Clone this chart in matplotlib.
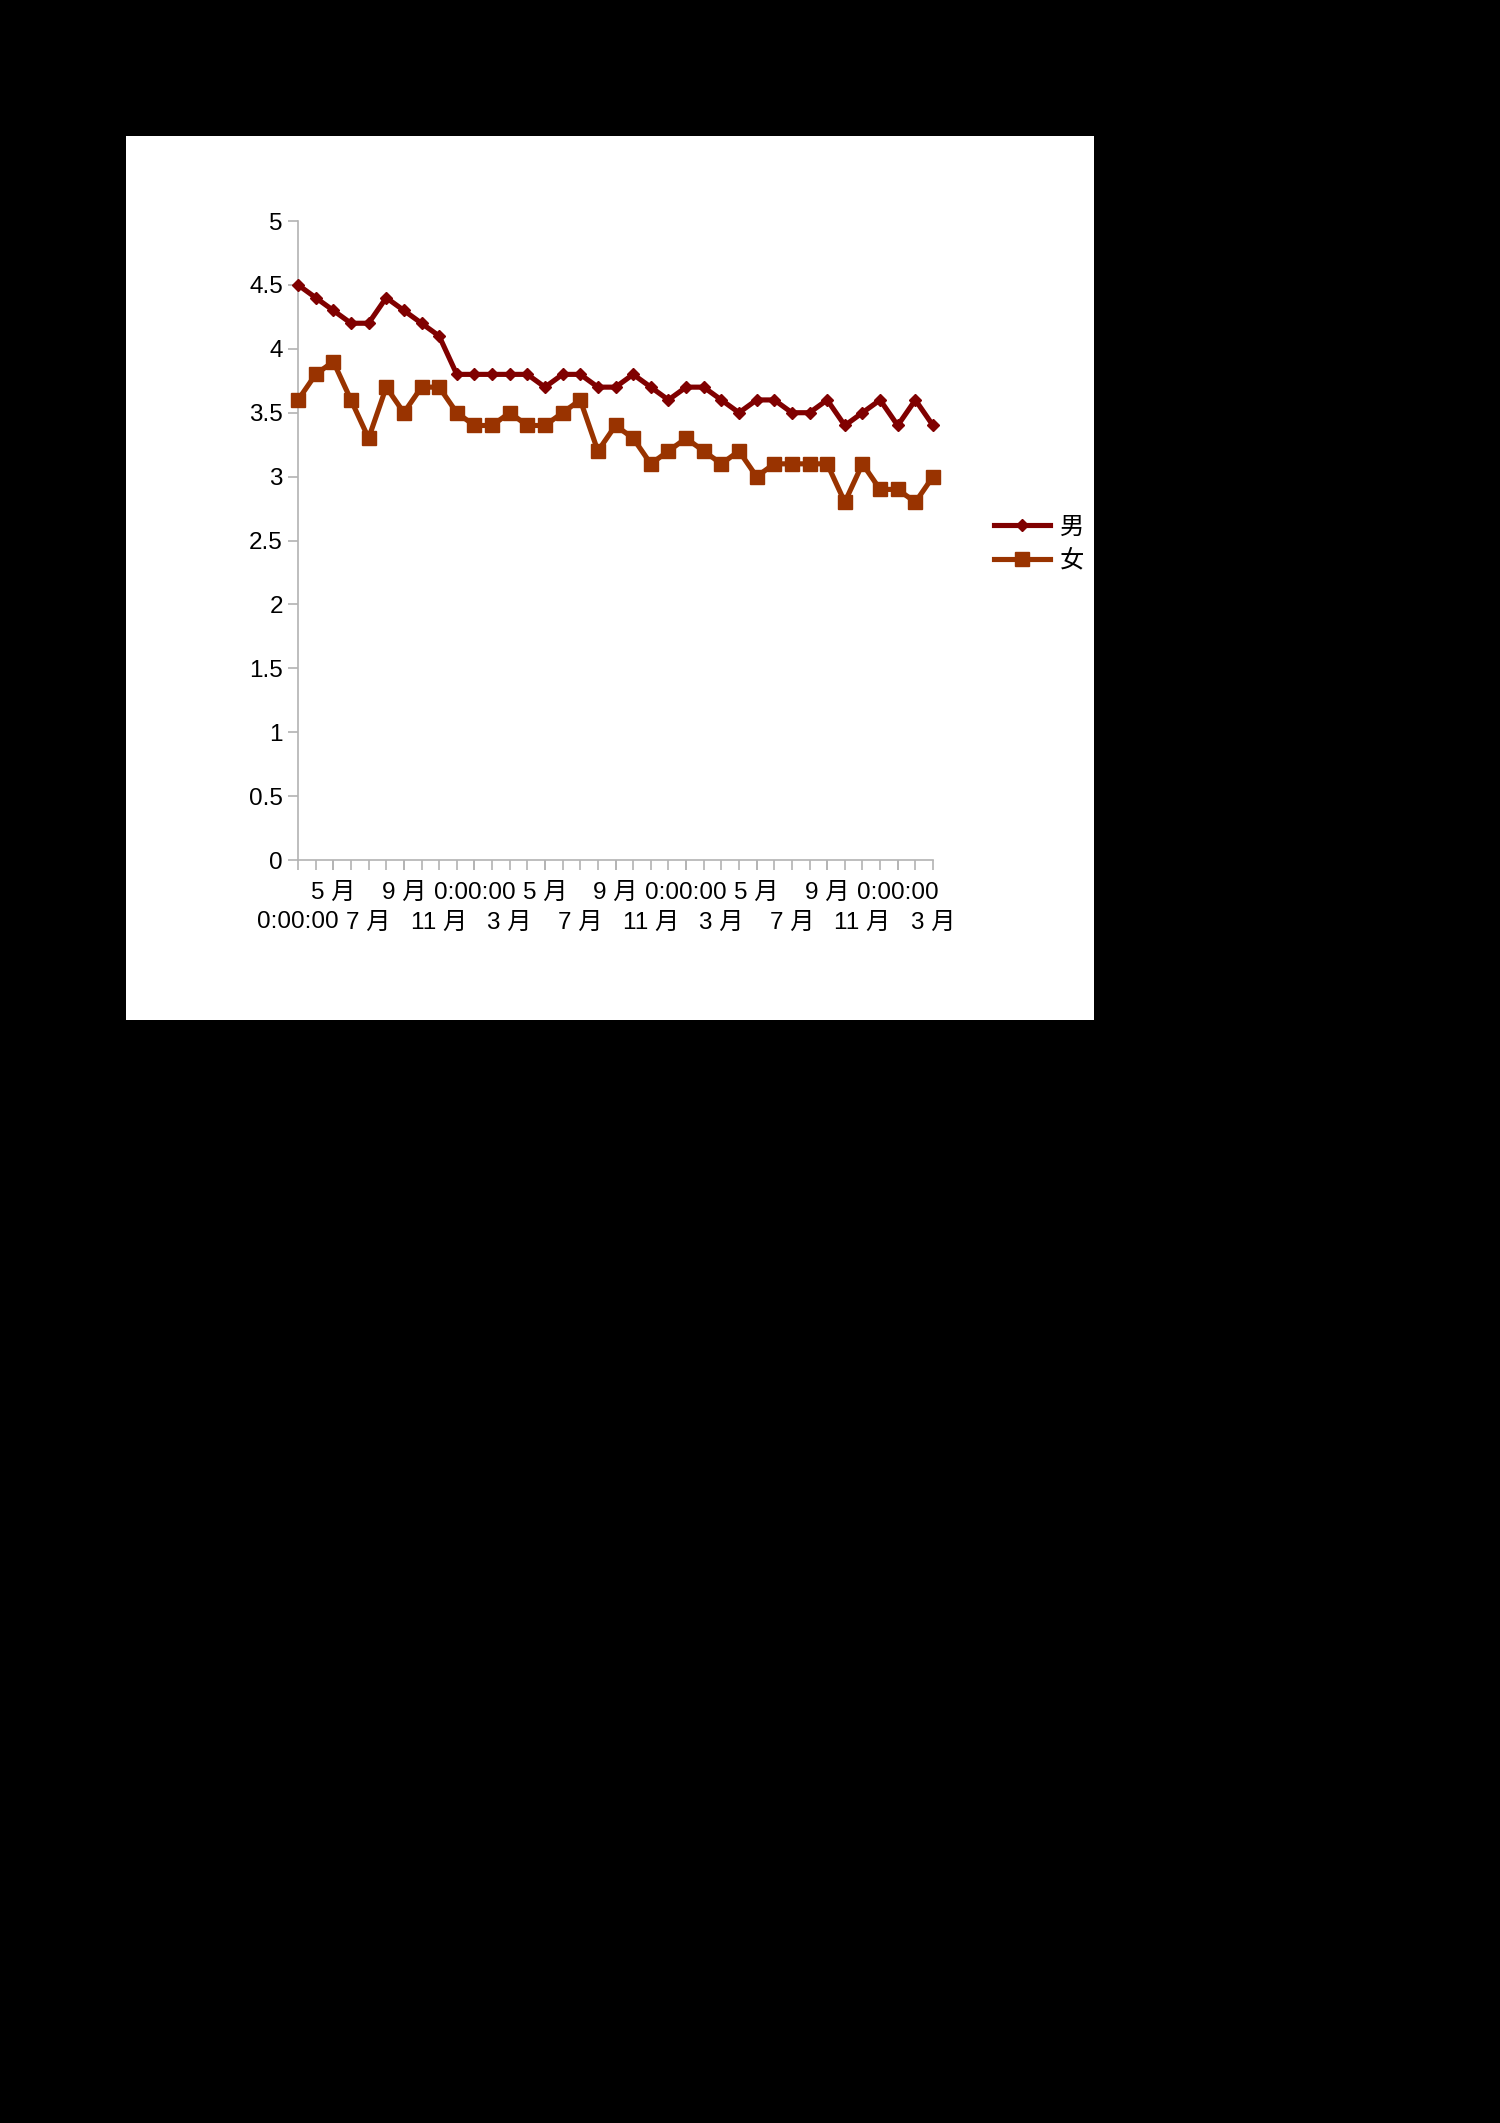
import numpy as np
import matplotlib
matplotlib.use('Agg')
import matplotlib.pyplot as plt
from matplotlib.patches import Rectangle

plt.rcParams['font.family'] = ['Liberation Sans', 'Noto Sans CJK SC', 'DejaVu Sans']

#%%----- data ----------------------------------------------------------------
male = [4.5, 4.4, 4.3, 4.2, 4.2, 4.4, 4.3, 4.2, 4.1, 3.8, 3.8, 3.8, 3.8, 3.8,
        3.7, 3.8, 3.8, 3.7, 3.7, 3.8, 3.7, 3.6, 3.7, 3.7, 3.6, 3.5, 3.6, 3.6,
        3.5, 3.5, 3.6, 3.4, 3.5, 3.6, 3.4, 3.6, 3.4]
female = [3.6, 3.8, 3.9, 3.6, 3.3, 3.7, 3.5, 3.7, 3.7, 3.5, 3.4, 3.4, 3.5, 3.4,
          3.4, 3.5, 3.6, 3.2, 3.4, 3.3, 3.1, 3.2, 3.3, 3.2, 3.1, 3.2, 3.0, 3.1,
          3.1, 3.1, 3.1, 2.8, 3.1, 2.9, 2.9, 2.8, 3.0]
# every second category gets a label
cat_labels = ['0:00:00', '5 月', '7 月', '9 月', '11 月', '0:00:00', '3 月',
              '5 月', '7 月', '9 月', '11 月', '0:00:00', '3 月', '5 月',
              '7 月', '9 月', '11 月', '0:00:00', '3 月']
y_ticks = [0, 0.5, 1, 1.5, 2, 2.5, 3, 3.5, 4, 4.5, 5]
series_names = ['男', '女']

#%%----- figure --------------------------------------------------------------
fig = plt.figure(figsize=(15, 21.23), dpi=100, facecolor='black')
fig.patches.append(Rectangle((0.084, 0.5195), 0.645, 0.4165, transform=fig.transFigure,
                             facecolor='white', edgecolor='none', zorder=-10))

ax = fig.add_axes([0.1987, 0.5949, 0.4233, 0.301])
ax.set_facecolor('none')
x = np.arange(len(male))

ax.plot(x, male, color='#800000', lw=3.7, marker='D', ms=6.4, label=series_names[0],
        clip_on=False, zorder=3)
ax.plot(x, female, color='#993300', lw=3.7, marker='s', ms=10, label=series_names[1],
        clip_on=False, zorder=3)

ax.set_xlim(0, len(male) - 1)
ax.set_ylim(0, 5)
for s in ['top', 'right']:
    ax.spines[s].set_visible(False)
for s in ['left', 'bottom']:
    ax.spines[s].set_color('#b3b3b3')
    ax.spines[s].set_linewidth(1.2)

ax.set_yticks(y_ticks)
ax.set_yticklabels(['%g' % v for v in y_ticks])
ax.tick_params(axis='y', length=7, width=1.2, color='#b3b3b3', pad=4,
               labelsize=17.5, labelcolor='black')

# ticks at every category; labels on every second one, in two staggered rows
# upper row -> major ticks, lower row -> minor ticks
upper = [lab for i, lab in enumerate(cat_labels) if i % 2 == 1]
lower = [cat_labels[i // 2] if i % 4 == 0 else '' for i in x]
ax.xaxis.remove_overlapping_locs = False
ax.set_xticks(x[2::4], labels=upper)
ax.set_xticks(x, labels=lower, minor=True)
ax.tick_params(axis='x', which='both', length=7, width=1.2, color='#b3b3b3',
               labelsize=17.5, labelcolor='black')
ax.tick_params(axis='x', which='major', pad=9)
ax.tick_params(axis='x', which='minor', pad=30)

leg = ax.legend(loc='center left', bbox_to_anchor=(1.062, 0.494), frameon=False,
                fontsize=17.5, handlelength=2.3, handletextpad=0.4, labelspacing=0.45)

plt.savefig('out.png', dpi=100, facecolor='black')
